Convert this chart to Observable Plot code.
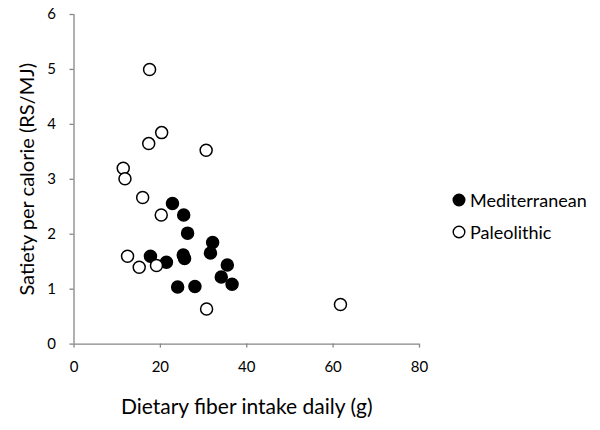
<!DOCTYPE html>
<html>
<head>
<meta charset="utf-8">
<script src="https://cdn.jsdelivr.net/npm/d3@7"></script>
<script src="https://cdn.jsdelivr.net/npm/@observablehq/plot@0.6"></script>
<style>
  html, body { margin: 0; padding: 0; background: #fff; }
  #wrap { position: relative; width: 600px; height: 430px; font-family: Lato, "Liberation Sans", sans-serif; }
  #legend { position: absolute; left: 452px; top: 184px; font-size: 18px; color: #000; }
  #legend div { display: flex; align-items: center; height: 32px; }
  #legend svg { margin-right: 4px; }
</style>
</head>
<body>
<div id="wrap">
  <div id="chart"></div>
  <div id="legend"></div>
</div>
<script>
const seriesNames = ["Mediterranean", "Paleolithic"];
const medFiber   = [22.8, 25.4, 26.3, 32.1, 31.6, 25.3, 25.6, 17.7, 21.4, 35.5, 34.1, 36.6, 24.0, 28.0];
const medSatiety = [2.56, 2.35, 2.02, 1.85, 1.66, 1.62, 1.56, 1.60, 1.49, 1.44, 1.22, 1.09, 1.04, 1.05];
const paleoFiber   = [17.5, 20.3, 17.3, 30.6, 11.4, 11.8, 15.9, 20.2, 12.4, 15.1, 19.1, 30.7, 61.7];
const paleoSatiety = [5.00, 3.85, 3.65, 3.53, 3.20, 3.01, 2.67, 2.35, 1.60, 1.40, 1.43, 0.64, 0.72];
const xTicks = [0, 20, 40, 60, 80];
const yTicks = [0, 1, 2, 3, 4, 5, 6];
const xLabel = "Dietary fiber intake daily (g)";
const yLabel = "Satiety per calorie (RS/MJ)";

const data = [
  ...medFiber.map((f, i) => ({fiber: f, satiety: medSatiety[i], diet: seriesNames[0]})),
  ...paleoFiber.map((f, i) => ({fiber: f, satiety: paleoSatiety[i], diet: seriesNames[1]}))
];

const fills = {Mediterranean: "#000", Paleolithic: "#fff"};
const axisColor = "#868686";

const chart = Plot.plot({
  width: 600,
  height: 430,
  marginLeft: 73.5,
  marginRight: 181,
  marginTop: 14,
  marginBottom: 86.4,
  style: {fontFamily: "Lato, 'Liberation Sans', sans-serif", fontSize: "15px", color: "#000", background: "#fff"},
  x: {domain: [0, 80], ticks: xTicks},
  y: {domain: [0, 6], ticks: yTicks},
  marks: [
    Plot.ruleY([0], {stroke: axisColor, strokeWidth: 1.3}),
    Plot.ruleX([0], {stroke: axisColor, strokeWidth: 1.3}),
    Plot.axisX({ticks: xTicks, tickSize: 4, tickPadding: 13, tickFormat: d3.format("d"), stroke: axisColor, strokeWidth: 1.3, fill: "#000", fontSize: 15,
      label: null}),
    Plot.axisY({ticks: yTicks, tickSize: 4, tickPadding: 14, tickFormat: d3.format("d"), stroke: axisColor, strokeWidth: 1.3, fill: "#000", fontSize: 15,
      label: null}),
    Plot.text([xLabel], {frameAnchor: "bottom", textAnchor: "middle", lineAnchor: "middle", dy: 63, fontSize: 21, fill: "#000"}),
    Plot.text([yLabel], {frameAnchor: "left", textAnchor: "middle", lineAnchor: "middle", rotate: -90, dx: -46, fontSize: 20, fill: "#000"}),
    Plot.dot(data, {x: "fiber", y: "satiety", r: 6, fill: d => fills[d.diet], stroke: "#000", strokeWidth: 1.5})
  ]
});
document.getElementById("chart").appendChild(chart);

const legend = document.getElementById("legend");
seriesNames.forEach(name => {
  const row = document.createElement("div");
  row.innerHTML = `<svg width="14" height="14"><circle cx="7" cy="7" r="5.8" fill="${fills[name]}" stroke="#000" stroke-width="1.4"/></svg><span>${name}</span>`;
  legend.appendChild(row);
});
</script>
</body>
</html>
